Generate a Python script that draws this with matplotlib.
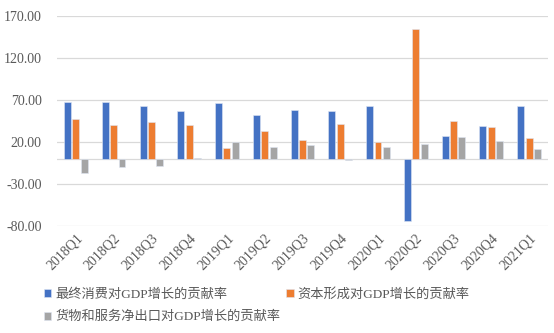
import matplotlib
matplotlib.use("Agg")
import matplotlib.pyplot as plt
import numpy as np

plt.rcParams['font.family'] = ['Liberation Serif', 'Noto Sans CJK SC']

categories = ["2018Q1", "2018Q2", "2018Q3", "2018Q4", "2019Q1", "2019Q2", "2019Q3",
              "2019Q4", "2020Q1", "2020Q2", "2020Q3", "2020Q4", "2021Q1"]
consumption = [68.0, 68.0, 62.5, 57.3, 66.0, 51.8, 58.0, 57.0, 62.5, -74.0, 27.5, 38.7, 62.5]
capital = [47.4, 39.9, 44.2, 39.9, 12.5, 33.0, 22.4, 41.8, 20.0, 154.0, 45.4, 37.5, 24.4]
net_exports = [-17.3, -9.4, -8.2, 1.3, 20.0, 13.7, 16.8, -1.0, 14.4, 18.0, 25.6, 21.2, 11.3]
series_names = ["最终消费对GDP增长的贡献率", "资本形成对GDP增长的贡献率", "货物和服务净出口对GDP增长的贡献率"]
yticks = [-80, -30, 20, 70, 120, 170]

colors = ["#4472C4", "#ED7D31", "#A5A5A5"]

fig = plt.figure(figsize=(5.54, 3.33), dpi=100)
ax = fig.add_axes([0.103, 0.321, 0.886, 0.631])

x = np.arange(len(categories))
w = 0.185
step = 0.22
bars = []
for i, (vals, c) in enumerate(zip([consumption, capital, net_exports], colors)):
    b = ax.bar(x + (i - 1) * step, vals, width=w, color=c, edgecolor="#dfe6f3", linewidth=0.4, zorder=3)
    bars.append(b)

ax.set_xlim(-0.5, len(categories) - 0.5)
ax.set_ylim(-80, 170)
ax.set_yticks(yticks)
ax.set_yticklabels([f"{v:.2f}" for v in yticks])
ax.grid(axis='y', color="#D9D9D9", linewidth=0.9, zorder=0)
ax.axhline(0, color="#D9D9D9", linewidth=0.9, zorder=1)
for s in ax.spines.values():
    s.set_visible(False)
ax.tick_params(axis='both', length=0, colors="#595959", labelsize=10)
ax.tick_params(axis='y', pad=11)
ax.set_xticks(x)
ax.set_xticklabels(categories, rotation=45, ha='right', rotation_mode='anchor')
ax.tick_params(axis='x', pad=4)

handles = [bars[0], bars[2], bars[1]]
labels = [series_names[0], series_names[2], series_names[1]]
leg = fig.legend(handles, labels, ncol=2, loc='upper left', bbox_to_anchor=(0.07, 0.15),
                 frameon=False, fontsize=9.5, handlelength=0.55, handleheight=0.55,
                 handletextpad=0.3, columnspacing=0.45, labelspacing=0.75, borderaxespad=0)
for t in leg.get_texts():
    t.set_color("#595959")

fig.savefig("out.png", dpi=100)
